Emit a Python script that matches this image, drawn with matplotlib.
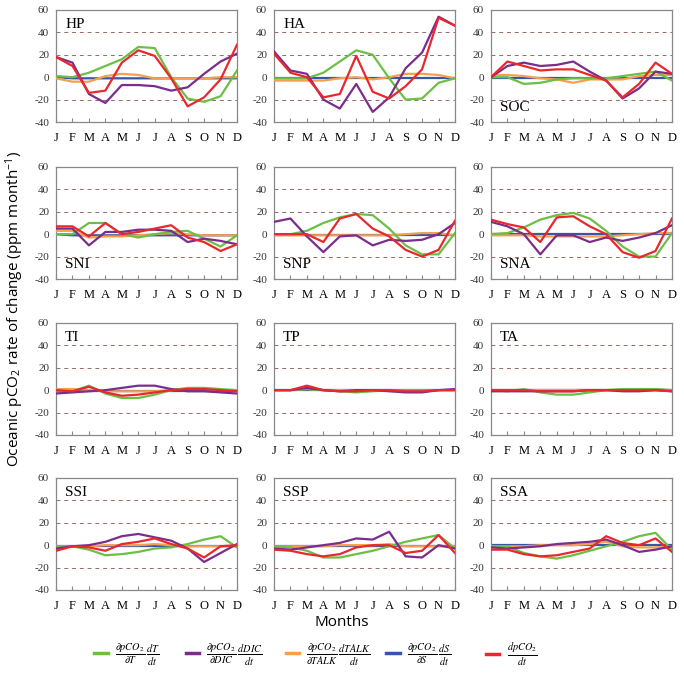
import numpy as np
import matplotlib.pyplot as plt

# =========================
# DATA (ppm / month)
# =========================

months = ['J', 'F', 'M', 'A', 'M', 'J', 'J', 'A', 'S', 'O', 'N', 'D']
regions = ['HP', 'HA', 'SOC', 'SNI', 'SNP', 'SNA', 'TI', 'TP', 'TA', 'SSI', 'SSP', 'SSA']

# temperature term
term_T = {
    'HP':  [1, 0, 4, 10, 16, 27, 26, 0, -19, -22, -17, 6],
    'HA':  [-1, -1, -1, 4, 14, 24, 20, -1, -20, -19, -5, -1],
    'SOC': [0, 0, -6, -5, -2, -1, -1, -1, 1, 3, 5, -3],
    'SNI': [0, 0, 10, 10, 0, -3, 0, 2, 3, -4, -11, -1],
    'SNP': [0, 0, 3, 10, 15, 18, 17, 5, -10, -18, -18, 1],
    'SNA': [0, 1, 6, 13, 17, 19, 14, 3, -11, -20, -20, 1],
    'TI':  [-1, -1, 4, -3, -7, -7, -4, 0, 2, 2, 1, 0],
    'TP':  [0, 0, 1, 0, -1, -2, -1, 0, 0, 0, 0, 0],
    'TA':  [0, -1, 1, -2, -4, -4, -2, 0, 1, 1, 1, 0],
    'SSI': [-1, -1, -4, -9, -8, -6, -3, -2, 1, 5, 8, -2],
    'SSP': [-1, -2, -5, -11, -11, -8, -5, -1, 3, 6, 9, -3],
    'SSA': [-1, -1, -7, -10, -12, -9, -5, -1, 3, 8, 11, -4],
}

# DIC term
term_DIC = {
    'HP':  [18, 13, -15, -23, -7, -7, -8, -12, -9, 3, 14, 21],
    'HA':  [23, 6, 3, -20, -28, -6, -31, -18, 8, 22, 54, 46],
    'SOC': [0, 10, 13, 10, 11, 14, 5, -3, -19, -10, 5, 3],
    'SNI': [5, 5, -10, 2, 2, 4, 4, 3, -7, -4, -6, -9],
    'SNP': [11, 14, -2, -16, -2, -1, -10, -5, -6, -5, 0, 10],
    'SNA': [11, 7, 0, -18, -1, -1, -7, -3, -6, -3, 1, 8],
    'TI':  [-3, -2, -1, 0, 2, 4, 4, 1, -1, -1, -2, -3],
    'TP':  [0, 0, 2, 0, -1, 0, 0, -1, -2, -2, 0, 1],
    'TA':  [-1, -1, -1, -1, -1, -1, 0, 0, -1, -1, 0, -1],
    'SSI': [-3, -1, 0, 3, 8, 10, 7, 4, -3, -15, -7, 1],
    'SSP': [-3, -4, -2, 0, 2, 6, 5, 12, -10, -11, 0, -3],
    'SSA': [-2, -3, -2, -1, 1, 2, 3, 5, 0, -6, -4, -1],
}

# TALK term
term_TALK = {
    'HP':  [-1, -4, -4, 1, 3, 2, -1, -1, -1, -1, 0, 0],
    'HA':  [-3, -3, -3, -3, -1, 0, -2, 0, 3, 3, 2, -1],
    'SOC': [2, 2, 1, -1, -2, -5, -2, -2, -2, 1, 2, 2],
    'SNI': [3, 3, -3, -2, -2, -1, 0, 1, 0, -1, -1, -1],
    'SNP': [-1, -1, -1, -1, -1, -1, -1, -1, 0, 1, 1, -1],
    'SNA': [-1, -1, -1, -2, -2, -2, -2, -2, -1, 0, 1, 1],
    'TI':  [1, 1, 0, -1, -1, -1, -1, 0, 1, 1, 0, 0],
    'TP':  [0, 0, 1, 0, 0, 0, 0, 0, 0, 0, 0, 0],
    'TA':  [0, 0, 0, 0, 0, 0, 0, 0, 0, 0, 0, 0],
    'SSI': [-1, -1, -1, 0, 0, 0, 1, 0, -1, -1, -1, -1],
    'SSP': [-1, -1, -1, -1, 0, 0, 0, 1, -1, -1, -1, -1],
    'SSA': [-1, -1, -1, 0, 0, 0, 1, 3, -1, -2, -2, -1],
}

# salinity term
term_S = {
    'HP':  [0, -1, -1, -1, -1, -1, -1, -1, -1, -1, -1, -1],
    'HA':  [-1, -1, -1, -1, -1, -1, -1, -1, -1, -1, -1, -1],
    'SOC': [-1, -1, -1, -1, -1, -1, -1, -1, -1, -1, -1, -1],
    'SNI': [0, -1, -1, -1, -1, -1, -1, -1, -1, -1, -1, -1],
    'SNP': [-1, -1, -1, -1, -1, -1, -1, -1, -1, -1, -1, -1],
    'SNA': [0, 0, 0, 0, 0, 0, 0, 0, 0, 0, 0, 0],
    'TI':  [-1, -1, -1, -1, -1, -1, -1, -1, -1, -1, -1, -1],
    'TP':  [0, 0, 0, 0, 0, 0, 0, 0, 0, 0, 0, 0],
    'TA':  [0, 0, 0, 0, 0, 0, 0, 0, 0, 0, 0, 0],
    'SSI': [-1, -1, -1, -1, -1, -1, -1, -1, -1, -1, -1, -1],
    'SSP': [-1, -1, -1, -1, -1, -1, -1, -1, -1, -1, -1, -1],
    'SSA': [0, 0, 0, 0, 0, 0, 0, 0, 0, 0, 0, 0],
}

# total dpCO2/dt
total = {
    'HP':  [18, 10, -14, -12, 13, 24, 19, -1, -26, -18, -2, 29],
    'HA':  [21, 4, 0, -18, -15, 19, -13, -19, -8, 7, 53, 46],
    'SOC': [0, 14, 10, 6, 7, 7, 2, -3, -18, -6, 13, 3],
    'SNI': [7, 7, -2, 10, 0, 2, 5, 8, -3, -7, -15, -9],
    'SNP': [0, 0, 0, -7, 14, 18, 5, -2, -14, -20, -14, 12],
    'SNA': [13, 9, 6, -7, 15, 16, 7, 0, -16, -21, -15, 14],
    'TI':  [0, -1, 3, -2, -5, -4, -2, 0, 1, 1, 0, -1],
    'TP':  [0, 0, 4, 0, -1, -1, 0, 0, -1, -1, 0, 0],
    'TA':  [0, 0, 0, -1, -1, -1, 0, 0, 0, 0, 0, -1],
    'SSI': [-5, -1, -2, -5, 1, 3, 6, 1, -3, -11, -1, 0],
    'SSP': [-4, -5, -8, -10, -8, -2, 0, 0, -7, -5, 9, -7],
    'SSA': [-4, -4, -8, -10, -9, -6, -3, 8, 2, 0, 6, -6],
}

label_bottom = ['SOC', 'SNI', 'SNP', 'SNA']

# =========================
# FIGURE
# =========================

plt.rcParams['mathtext.fontset'] = 'stix'

fig = plt.figure(figsize=(6.84, 6.79), dpi=100)

col_left = [0.0819, 0.4006, 0.7178]
row_bottom = [0.8203, 0.5891, 0.3594, 0.1311]
w, h = 0.2646, 0.165

x = np.arange(12)
serif = 'Liberation Serif'

for i, reg in enumerate(regions):
    r, c = divmod(i, 3)
    ax = fig.add_axes([col_left[c], row_bottom[r], w, h])

    for yy in (-20, 20, 40):
        ax.axhline(yy, color='#9a6a6a', lw=0.7, ls=(0, (4, 4)), zorder=1)

    ax.plot(x, term_S[reg], color='#3856a8', lw=1.6, zorder=2)
    ax.plot(x, term_TALK[reg], color='#f5a050', lw=1.6, zorder=3)
    ax.plot(x, term_T[reg], color='#6cbf45', lw=1.6, zorder=4)
    ax.plot(x, term_DIC[reg], color='#7b2d8b', lw=1.6, zorder=5)
    ax.plot(x, total[reg], color='#e8282c', lw=1.6, zorder=6)

    ax.set_xlim(0, 11)
    ax.set_ylim(-40, 60)
    ax.set_xticks(x)
    ax.set_xticklabels(months, fontfamily=serif, fontsize=9)
    ax.set_yticks([-40, -20, 0, 20, 40, 60])
    ax.set_yticklabels(['-40', '-20', '0', '20', '40', '60'],
                       fontfamily=serif, fontsize=8, color='#333333')
    ax.tick_params(axis='x', direction='in', length=3, color='#888888', pad=7)
    ax.tick_params(axis='y', length=0, pad=5)
    for sp in ax.spines.values():
        sp.set_color('#888888')
        sp.set_linewidth(0.9)

    if reg in label_bottom:
        ax.text(0.05, 0.07, reg, transform=ax.transAxes, fontfamily=serif,
                fontsize=11, va='bottom', ha='left')
    else:
        ax.text(0.05, 0.93, reg, transform=ax.transAxes, fontfamily=serif,
                fontsize=11, va='top', ha='left')

fig.text(0.022, 0.545, r'Oceanic pCO$_\mathregular{2}$ rate of change (ppm month$^\mathregular{-1}$)',
         rotation=90, ha='center', va='center', fontsize=11, fontfamily='Open Sans')
fig.text(0.5, 0.083, 'Months', ha='center', va='center',
         fontsize=11, fontfamily='Open Sans')

# =========================
# LEGEND (one entry per slot)
# =========================

labels = [
    r'$\frac{\partial pCO_2}{\partial T}\,\frac{dT}{dt}$',
    r'$\frac{\partial pCO_2}{\partial DIC}\,\frac{dDIC}{dt}$',
    r'$\frac{\partial pCO_2}{\partial TALK}\,\frac{dTALK}{dt}$',
    r'$\frac{\partial pCO_2}{\partial S}\,\frac{dS}{dt}$',
    r'$\frac{dpCO_2}{dt}$',
]
colors = ['#6cbf45', '#7b2d8b', '#f5a050', '#3856a8', '#e8282c']
slot_x = [0.138, 0.272, 0.418, 0.565, 0.711]

for lab, cl, sx in zip(labels, colors, slot_x):
    hd = plt.Line2D([], [], color=cl, lw=2.5)
    fig.legend([hd], [lab], loc='center left', bbox_to_anchor=(sx, 0.036),
               frameon=False, fontsize=10.5, handlelength=0.9,
               handletextpad=0.5, borderpad=0, borderaxespad=0)

fig.savefig('out.png', dpi=100)
